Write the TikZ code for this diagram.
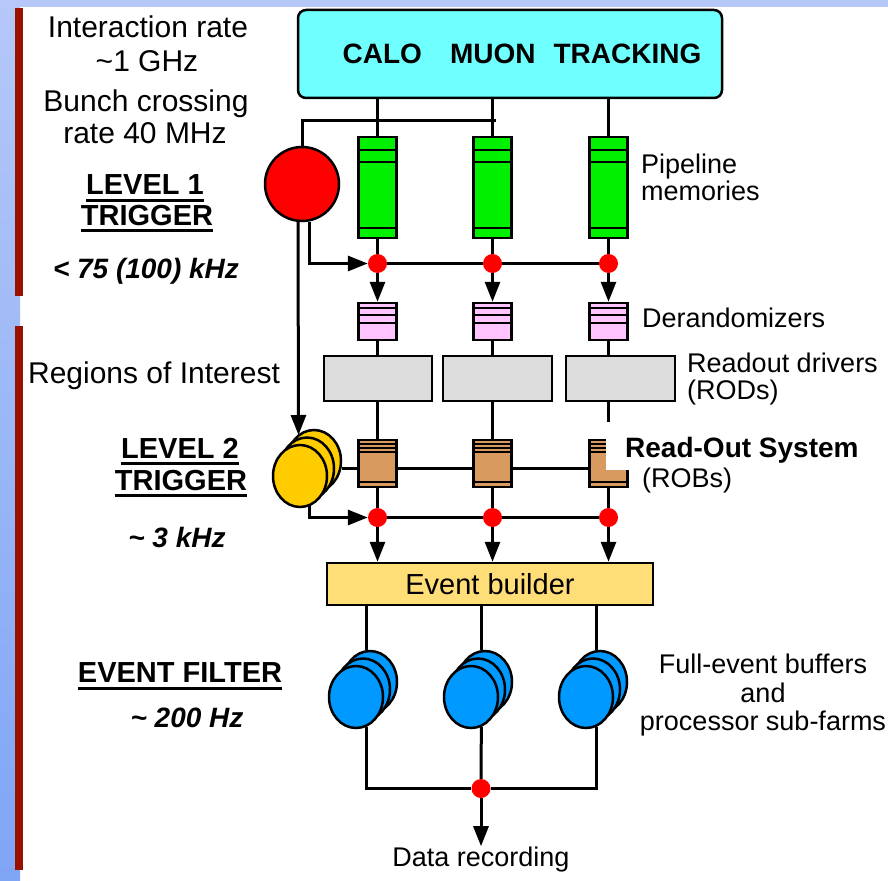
\documentclass[tikz,border=0pt]{standalone}
\usepackage{fontspec}
\setmainfont{Liberation Sans}
\usetikzlibrary{arrows.meta,shapes.geometric}

\definecolor{detcyan}{HTML}{70FFFF}
\definecolor{pipegreen}{HTML}{00F000}
\definecolor{derpink}{HTML}{FFC4FF}
\definecolor{rodgray}{HTML}{DCDCDC}
\definecolor{robtan}{HTML}{D89A5E}
\definecolor{yelgold}{HTML}{FFCC00}
\definecolor{ebgold}{HTML}{FFDD77}
\definecolor{efblue}{HTML}{0099FF}
\definecolor{barred}{HTML}{9A1000}
\definecolor{bandtop}{HTML}{B5C8F8}
\definecolor{bandbot}{HTML}{7FA5F5}

\tikzset{
  wire/.style={line width=3pt},
  box/.style={draw,line width=2.5pt,inner sep=0pt},
  dot/.style={circle,fill=red,minimum size=19pt,inner sep=0pt},
  pipe/.style={box,fill=pipegreen,minimum width=38pt,minimum height=101pt,
    path picture={\foreach \s in {13,25,91}
      \draw[line width=2pt] ([yshift=-\s pt]path picture bounding box.north west) -- ++(40pt,0pt);}},
  derand/.style={box,fill=derpink,minimum width=38pt,minimum height=37pt,
    path picture={\foreach \s in {5,12,20}
      \draw[line width=2pt] ([yshift=-\s pt]path picture bounding box.north west) -- ++(40pt,0pt);}},
  rod/.style={box,fill=rodgray,minimum height=45pt},
  rob/.style={box,fill=robtan,minimum width=38pt,minimum height=47pt,
    path picture={\foreach \s in {4,8,12,42}
      \draw[line width=1.8pt] ([yshift=-\s pt]path picture bounding box.north west) -- ++(40pt,0pt);}},
  yel/.style={box,ellipse,fill=yelgold,minimum width=54pt,minimum height=62pt},
  efb/.style={box,ellipse,fill=efblue,minimum width=54pt,minimum height=62pt},
  lbl/.style={font=\fontsize{30}{34}\selectfont,inner sep=0pt,anchor=base},
  lvl/.style={font=\bfseries\fontsize{29}{32}\selectfont,inner xsep=0pt,inner ysep=5pt,text depth=0pt},
  rate/.style={font=\bfseries\itshape\fontsize{28}{32}\selectfont,inner sep=0pt,anchor=base},
  side/.style={font=\fontsize{27}{30}\selectfont,inner sep=0pt,anchor=base west},
  sidec/.style={font=\fontsize{27}{30}\selectfont,inner sep=0pt,anchor=base}
}

\begin{document}
\begin{tikzpicture}[x=1pt,y=-1pt,>={Triangle[length=20pt,width=15pt]}]
  \useasboundingbox (0,0) rectangle (888,880);
  % slide frame
  \shade[top color=bandtop,bottom color=bandbot] (0,0) rectangle (20,880);
  \fill[bandtop] (0,0) rectangle (888,7);
  \fill[barred] (15,8) rectangle (23,296);
  \fill[barred] (15,326) rectangle (23,870);

  % detectors and level 1
  \node[box,fill=detcyan,rounded corners=8pt,minimum width=424pt,minimum height=88pt,
        font=\bfseries\fontsize{28}{30}\selectfont] (det) at (510,54)
        {\hspace*{24pt}CALO\hspace{28pt}MUON\hspace{18pt}TRACKING};
  \node[box,circle,fill=red,minimum size=74pt] (lvl1) at (302,184) {};
  \coordinate (l1end) at (496,120.5);
  \coordinate (roiin) at (298.5,435);

  \node[pipe] (pipeA) at (377.5,187.5) {};
  \node[pipe] (pipeB) at (492.5,187.5) {};
  \node[pipe] (pipeC) at (608.5,187.5) {};

  \node[dot] (dotA1) at (377.5,263.5) {};
  \node[dot] (dotB1) at (492.5,263.5) {};
  \node[dot] (dotC1) at (608.5,263.5) {};

  \node[derand] (derA) at (377.5,321.5) {};
  \node[derand] (derB) at (492.5,321.5) {};
  \node[derand] (derC) at (608.5,321.5) {};

  \node[rod,minimum width=108pt] (rodA) at (378,378.5) {};
  \node[rod,minimum width=109pt] (rodB) at (497.5,378.5) {};
  \node[rod,minimum width=109pt] (rodC) at (620.5,378.5) {};

  % level 2
  \node[yel] (yelC) at (314,461) {};
  \node[yel] (yelB) at (307,468.5) {};
  \node[yel] (yelA) at (300,476) {};

  \node[rob] (robA) at (377.5,463.5) {};
  \node[rob] (robB) at (492.5,463.5) {};
  \node[rob] (robC) at (608.5,463.5) {};

  \node[dot] (dotA2) at (377.5,517.5) {};
  \node[dot] (dotB2) at (492.5,517.5) {};
  \node[dot] (dotC2) at (608.5,517.5) {};

  \node[box,fill=ebgold,minimum width=326pt,minimum height=42pt,
        font=\fontsize{29}{32}\selectfont] (eb) at (490,584) {Event builder};

  % event filter
  \node[efb] (efA3) at (370,682) {};
  \node[efb] (efA2) at (363,689.5) {};
  \node[efb] (efA1) at (356,697) {};
  \node[efb] (efB3) at (485,682) {};
  \node[efb] (efB2) at (478,689.5) {};
  \node[efb] (efB1) at (471,697) {};
  \node[efb] (efC3) at (600,682) {};
  \node[efb] (efC2) at (593,689.5) {};
  \node[efb] (efC1) at (586,697) {};

  \node[dot] (dotD) at (481,788.5) {};
  \node[sidec] (rec) at (481,866) {Data recording};

  % connectors
  \draw[wire] (det.south -| pipeA) -- (pipeA.north);
  \draw[wire] (det.south -| pipeB) -- (pipeB.north);
  \draw[wire] (det.south -| pipeC) -- (pipeC.north);
  \draw[wire] (lvl1.north) |- (l1end);
  \draw[wire,->] (lvl1.264) -- (roiin);
  \draw[wire,->] (lvl1.281) |- (dotA1.west);
  \draw[wire] (dotA1) -- (dotB1) -- (dotC1);
  \draw[wire] (pipeA) -- (dotA1);
  \draw[wire] (pipeB) -- (dotB1);
  \draw[wire] (pipeC) -- (dotC1);
  \draw[wire,->] (dotA1) -- (derA.north);
  \draw[wire,->] (dotB1) -- (derB.north);
  \draw[wire,->] (dotC1) -- (derC.north);
  \draw[wire] (derA.south) -- (derA.south |- rodA.north);
  \draw[wire] (derB.south) -- (derB.south |- rodB.north);
  \draw[wire] (derC.south) -- (derC.south |- rodC.north);
  \draw[wire] (robA.north |- rodA.south) -- (robA.north);
  \draw[wire] (robB.north |- rodB.south) -- (robB.north);
  \draw[wire] (robC.north |- rodC.south) -- (robC.north);
  \draw[wire] (yelC.east |- yelB) -- (robA.west |- yelB);
  \draw[wire] (robA.east |- yelB) -- (robB.west |- yelB);
  \draw[wire] (robB.east |- yelB) -- (robC.west |- yelB);
  \draw[wire] (robA) -- (dotA2);
  \draw[wire] (robB) -- (dotB2);
  \draw[wire] (robC) -- (dotC2);
  \draw[wire,->] (yelA.287) |- (dotA2.west);
  \draw[wire] (dotA2) -- (dotB2) -- (dotC2);
  \draw[wire,->] (dotA2) -- (dotA2 |- eb.north);
  \draw[wire,->] (dotB2) -- (dotB2 |- eb.north);
  \draw[wire,->] (dotC2) -- (dotC2 |- eb.north);
  \draw[wire] (efA1.289 |- eb.south) -- (efA1.289 |- efA3.north);
  \draw[wire] (efB1.289 |- eb.south) -- (efB1.289 |- efB3.north);
  \draw[wire] (efC1.289 |- eb.south) -- (efC1.289 |- efC3.north);
  \draw[wire] (efA1.289) |- (dotD) -| (efC1.289);
  \draw[wire] (efB1.289) -- (dotD);
  \draw[wire,->] (dotD) -- (rec.north);

  % left labels
  \node[lbl] (irate) at (148,38) {Interaction rate};
  \node[lbl] (ighz) at (147,72) {\textasciitilde1 GHz};
  \node[lbl] (bcross) at (146,112) {Bunch crossing};
  \node[lbl] (brate) at (145,143) {rate 40 MHz};
  \node[lvl] (lvA) at (145,185) {LEVEL 1};
  \node[lvl] (trgA) at (147,215) {TRIGGER};
  \node[rate] (rA) at (146,278) {< 75 (100) kHz};
  \node[lbl] (roi) at (154,383) {Regions of Interest};
  \node[lvl] (lvB) at (180,448) {LEVEL 2};
  \node[lvl] (trgB) at (181,480) {TRIGGER};
  \node[rate] (rB) at (177,547) {\textasciitilde{} 3 kHz};
  \node[lvl] (evf) at (180,673) {EVENT FILTER};
  \node[rate] (rC) at (187,727) {\textasciitilde{} 200 Hz};
  \foreach \n in {lvA,trgA,lvB,trgB,evf}
    \draw[wire] (\n.south west) -- (\n.south east);

  % right labels
  \node[side] (pipeL1) at (641,173) {Pipeline};
  \node[side] (pipeL2) at (641,200) {memories};
  \node[side] (derL) at (642,327) {Derandomizers};
  \node[side] (rodL1) at (687,372) {Readout drivers};
  \node[side] (rodL2) at (687,399) {(RODs)};
  \node[fill=white,inner sep=0pt,minimum width=282pt,minimum height=48pt,anchor=north west] (rosbox) at (606,422) {};
  \node[side,font=\bfseries\fontsize{28}{32}\selectfont] (rosL) at (625,457) {Read-Out System};
  \node[side] (robL) at (642,487) {(ROBs)};
  \node[sidec] (efL1) at (763,673) {Full-event buffers};
  \node[sidec] (efL2) at (763,702) {and};
  \node[sidec] (efL3) at (763,730) {processor sub-farms};
\end{tikzpicture}
\end{document}
